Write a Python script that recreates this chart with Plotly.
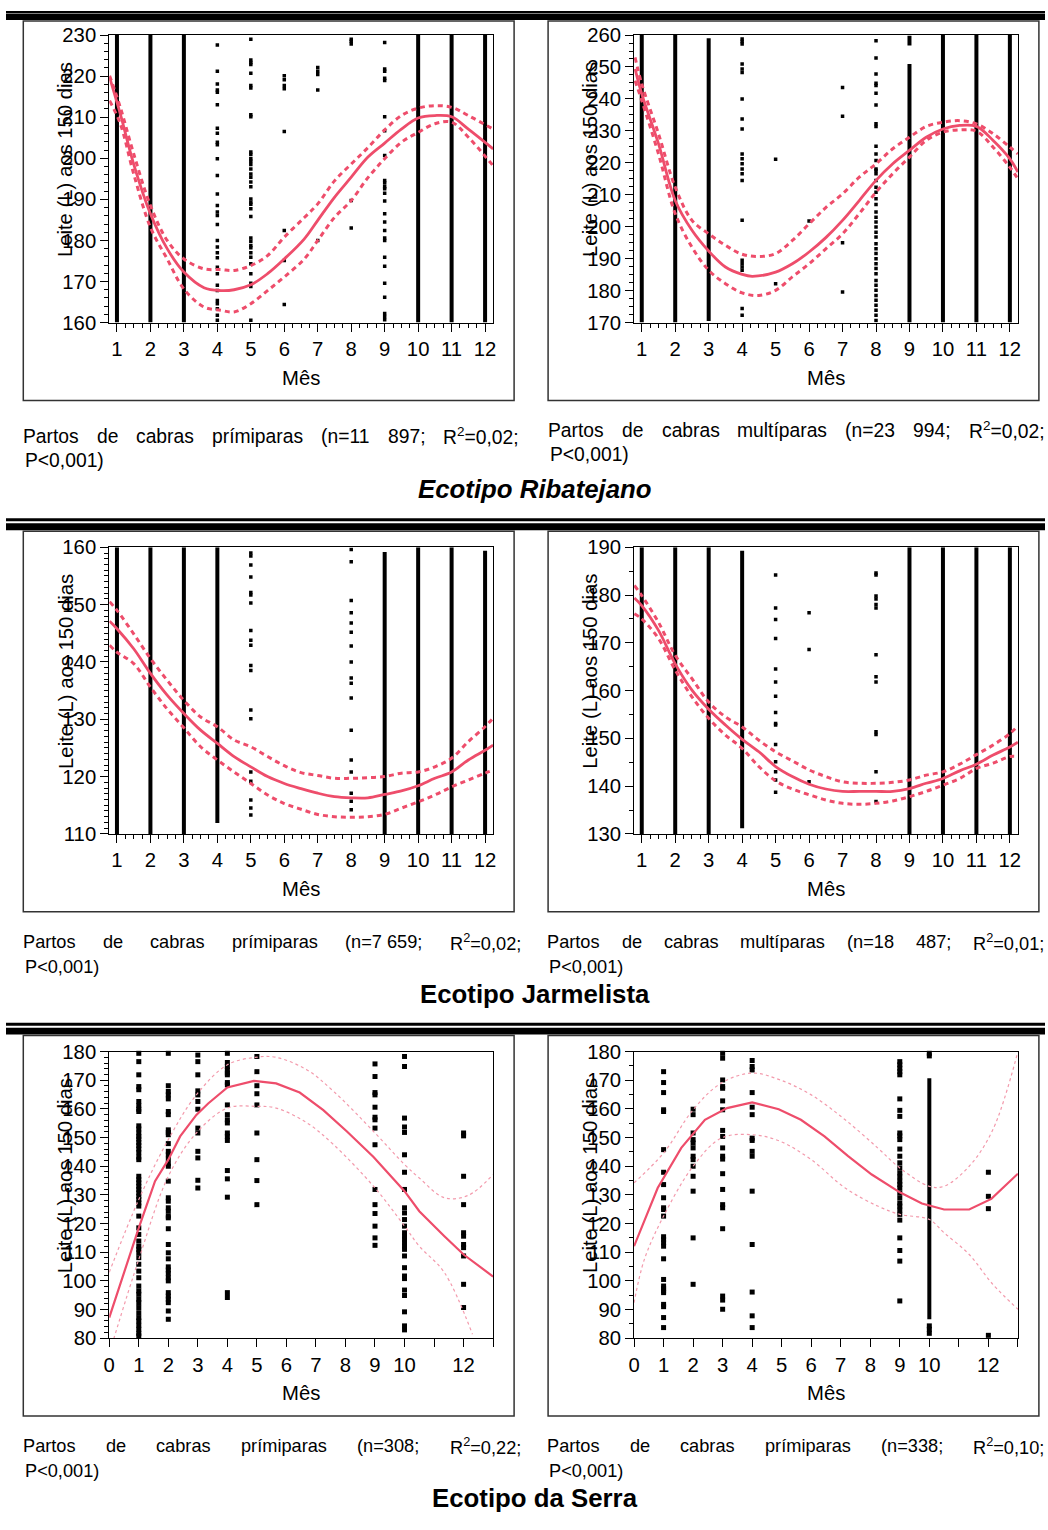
import plotly.graph_objects as go

W_PX, H_PX = 1048, 1530
# The photographed page comes out slightly shrunk; positions taken from the reference are
# pre-compensated (measured offset/scale per direction) so marks land where the reference has them.
SHOT_SCALE_Y = 0.987
SHOT_X_OFFSET, SHOT_SCALE_X = 5.7, 0.9918
FONT = "Liberation Sans, Arial, sans-serif"
RED = "#EE4D6B"
PINK = "#F39AAC"

# ---------------- data ----------------
# Panel 1: Ribatejano, primíparas
P1_SOLID = [(1, 160, 230), (2, 160, 230), (3, 160, 230), (10, 160, 230), (11, 160, 230), (12, 160, 230)]
P1_DOTS = {
    4: [227.6, 221.2, 218.1, 216.6, 216.1, 213.0, 207.3, 206.1, 203.9, 203.3, 199.9, 195.8, 191.3, 188.5, 186.9,
        186.1, 183.9, 180.0, 178.4, 177.0, 175.8, 173.5, 171.9, 169.1, 167.8, 165.4, 164.6, 163.4, 161.8, 160.6],
    5: [229.0, 223.9, 223.3, 222.8, 220.7, 217.7, 217.1, 210.6, 210.1, 201.5, 200.9, 199.9, 199.3, 198.5, 197.4,
        196.2, 195.4, 194.2, 193.1, 190.1, 189.3, 188.8, 187.7, 185.8, 180.6, 179.8, 178.8, 178.2, 177.0, 175.9,
        174.3, 171.9, 169.6, 168.8, 160.6],
    6: [220.1, 219.1, 217.7, 216.9, 206.5, 182.4, 175.1, 164.4],
    7: [222.1, 221.2, 220.4, 216.6, 180.0],
    8: [229.0, 228.5, 227.8, 189.7, 183.0],
    9: [228.2, 221.7, 221.2, 219.5, 218.9, 210.1, 206.7, 200.7, 194.6, 194.0, 193.1, 192.6, 191.5, 189.6, 186.5,
        184.5, 182.4, 180.6, 180.0, 175.9, 173.7, 169.6, 166.2, 162.2, 161.5, 160.7],
}
P1_X = [0.78, 1.1, 1.5, 2.0, 2.5, 3.0, 3.6, 4.1, 4.5, 5.0, 5.5, 6.0, 6.6, 7.0, 7.5, 8.0, 8.5, 9.0, 9.5, 10.0,
        10.5, 11.0, 11.5, 12.24]
P1_FIT = [219.7, 210.8, 198.6, 186.5, 178.0, 172.3, 168.5, 167.8, 168.0, 169.2, 171.9, 175.5, 180.4, 184.9,
          190.5, 195.4, 200.3, 203.7, 207.1, 209.8, 210.4, 210.1, 207.1, 202.3]
P1_UP = [220.1, 212.4, 201.1, 188.5, 180.0, 175.5, 173.1, 172.9, 172.7, 173.9, 176.3, 180.8, 185.6, 188.9,
         194.5, 198.6, 202.6, 206.9, 210.4, 212.2, 212.8, 212.4, 210.4, 207.1]
P1_LO = [214.0, 208.4, 196.2, 183.2, 175.5, 168.2, 163.8, 163.0, 162.6, 164.6, 167.8, 171.1, 175.5, 180.0,
         185.6, 189.7, 195.3, 199.9, 203.9, 206.3, 208.4, 208.8, 205.1, 198.2]

# Panel 2: Ribatejano, multíparas
P2_SOLID = [(1, 170, 260), (2, 170, 260), (3, 170.5, 259.0), (9, 256.7, 259.8), (9, 170, 250.9),
            (10, 170, 260), (11, 170, 260), (12, 170, 260)]
P2_DOTS = {
    4: [258.75, 258.0, 257.2, 250.9, 249.4, 248.3, 240.0, 233.75, 230.6, 222.8, 221.25, 219.7, 218.1, 216.6,
        214.5, 202.0, 189.5, 188.4, 187.4, 186.4, 174.4, 172.3],
    5: [221.1, 182.2],
    6: [201.8],
    7: [243.6, 234.6, 195.0, 179.6],
    8: [258.2, 252.8, 247.8, 244.9, 244.2, 241.8, 238.1, 232.2, 231.4, 225.2, 222.8, 220.7, 218.1, 217.6, 216.6,
        214.5, 212.4, 210.8, 208.75, 207.0, 204.6, 203.0, 201.5, 199.9, 198.3, 196.8, 194.7, 193.1, 191.6, 190.0,
        188.4, 186.9, 185.3, 183.2, 181.7, 180.1, 178.5, 177.0, 175.4, 173.9, 172.3, 170.7],
}
P2_FIT_X = [0.8, 1.0, 1.5, 2.0, 2.5, 3.0, 3.5, 4.0, 4.3, 5.0, 5.5, 6.0, 6.5, 7.0, 7.5, 8.0, 8.5, 9.0, 9.5, 10.0,
            10.5, 11.0, 11.5, 12.0, 12.24]
P2_FIT = [249.4, 241.6, 226.0, 208.2, 198.9, 192.4, 187.4, 185.1, 184.5, 185.8, 188.4, 192.1, 196.6, 202.0,
          208.2, 214.5, 219.7, 223.9, 228.0, 230.6, 231.7, 231.4, 227.0, 221.25, 217.1]
P2_CI_X = [0.8, 1.0, 1.5, 2.0, 2.5, 3.0, 3.5, 4.0, 4.5, 5.0, 5.5, 6.0, 6.5, 7.0, 7.5, 8.0, 8.5, 9.0, 9.5, 10.0,
           10.5, 11.0, 11.5, 12.0, 12.24]
P2_UP = [253.0, 244.7, 229.1, 212.4, 202.0, 197.8, 194.2, 191.4, 190.7, 191.6, 195.7, 200.9, 206.0, 210.3,
         215.5, 219.7, 224.4, 228.0, 231.4, 232.7, 233.2, 232.2, 229.1, 224.9, 222.8]
P2_LO = [245.7, 239.5, 222.8, 204.1, 193.6, 186.4, 182.2, 179.3, 178.5, 180.1, 184.3, 188.4, 193.1, 197.8,
         204.1, 210.8, 216.6, 221.8, 227.0, 229.6, 230.3, 229.9, 224.9, 218.6, 215.0]

# Panel 3: Jarmelista, primíparas
P3_SOLID = [(1, 110, 160), (2, 110, 160), (3, 110, 160), (4, 111.9, 160), (9, 110, 159.2),
            (10, 110, 160), (11, 110, 160), (12, 110, 159.4)]
P3_DOTS = {
    5: [159.0, 158.5, 156.9, 154.8, 152.1, 151.7, 150.3, 145.5, 143.8, 142.9, 139.4, 138.5, 131.6, 130.1, 120.8,
        119.2, 115.9, 114.5, 113.3],
    8: [159.6, 157.5, 150.7, 148.6, 146.8, 145.2, 142.8, 140.0, 137.2, 136.3, 133.7, 128.1, 122.9, 120.8, 117.1,
        115.7, 114.2],
}
P3_X = [0.78, 1.0, 1.5, 2.0, 2.5, 3.0, 3.5, 4.0, 4.5, 5.0, 5.5, 6.0, 6.5, 7.0, 7.5, 8.0, 8.5, 9.0, 9.5, 10.0,
        10.5, 11.0, 11.5, 12.0, 12.24]
P3_FIT = [147.1, 145.8, 142.3, 138.0, 134.2, 131.0, 128.1, 125.8, 123.5, 121.7, 120.0, 118.8, 117.9, 117.1,
          116.5, 116.3, 116.3, 116.9, 117.5, 118.4, 119.7, 120.8, 122.9, 124.6, 125.5]
P3_UP = [150.5, 149.0, 144.9, 140.6, 136.8, 133.3, 130.4, 128.7, 126.4, 125.2, 123.5, 121.9, 120.7, 120.2,
         119.7, 119.7, 119.8, 120.0, 120.6, 120.8, 121.7, 123.2, 126.1, 128.7, 130.2]
P3_LO = [142.9, 141.7, 139.7, 135.6, 131.8, 128.5, 125.2, 122.9, 120.8, 118.8, 116.8, 115.3, 114.3, 113.4,
         113.0, 112.9, 113.0, 113.4, 114.5, 115.6, 116.8, 118.2, 119.4, 120.6, 121.1]

# Panel 4: Jarmelista, multíparas
P4_SOLID = [(1, 130, 190), (2, 130, 190), (3, 130, 190), (4, 131.2, 189.3), (9, 130, 190),
            (10, 130, 190), (11, 130, 190), (12, 130, 190)]
P4_DOTS = {
    5: [184.2, 177.3, 174.9, 170.9, 164.5, 161.8, 158.8, 155.4, 153.1, 152.8, 148.7, 145.1, 143.0, 141.3, 138.7],
    6: [176.3, 168.6, 140.9],
    8: [184.6, 184.2, 179.8, 179.2, 178.0, 177.3, 167.5, 162.9, 161.8, 151.4, 150.8, 143.0, 136.8],
}
P4_X = P3_X
P4_FIT = [179.4, 177.8, 172.6, 165.6, 160.1, 156.1, 152.8, 149.8, 147.2, 144.1, 142.0, 140.4, 139.4, 138.9,
          138.9, 138.9, 138.9, 139.5, 140.6, 141.6, 143.2, 144.6, 146.5, 148.2, 149.2]
P4_UP = [182.0, 179.9, 174.3, 167.4, 162.5, 157.6, 154.5, 152.4, 149.6, 147.2, 145.3, 143.4, 142.0, 140.9,
         140.6, 140.6, 140.8, 141.3, 142.3, 143.0, 144.6, 146.6, 148.6, 151.0, 152.6]
P4_LO = [176.1, 175.0, 170.9, 164.3, 158.7, 154.2, 150.7, 147.9, 144.1, 141.1, 139.4, 138.2, 137.1, 136.4,
         136.2, 136.4, 136.9, 137.8, 138.9, 140.2, 141.6, 143.7, 144.8, 146.2, 146.2]

# Panel 5: Serra (n=308)
P5_SOLID = []
P5_DOTS = {
    1: [179.4, 176.5, 171.9, 167.8, 166.7, 162.6, 161.1, 159.9, 159.1, 154.1, 153.0, 151.6, 150.4, 149.5, 148.3,
        147.2, 146.0, 144.8, 143.2, 142.3, 136.5, 135.3, 134.2, 133.0, 131.9, 130.7, 129.5, 128.4, 127.2, 126.1,
        122.6, 118.5, 116.2, 113.9, 112.1, 111.0, 109.8, 108.1, 105.8, 103.4, 101.1, 98.2, 96.5, 95.3, 93.6,
        92.4, 90.7, 88.9, 87.2, 86.0, 84.5, 83.1, 81.7, 80.8],
    2: [179.4, 168.1, 166.1, 164.9, 163.5, 159.1, 158.0, 152.7, 151.8, 151.0, 147.9, 145.2, 144.0, 142.5, 140.9,
        140.0, 134.8, 129.0, 127.8, 125.5, 124.3, 122.6, 122.0, 118.2, 112.7, 109.8, 107.7, 104.9, 103.8, 102.6,
        101.1, 100.0, 95.9, 94.7, 93.6, 92.4, 89.5, 86.6],
    3: [178.8, 176.5, 171.9, 166.3, 164.9, 162.6, 159.9, 153.3, 151.6, 145.2, 142.9, 135.1, 132.4],
    4: [179.4, 176.2, 174.8, 173.6, 172.5, 171.9, 169.2, 168.4, 161.4, 158.0, 156.2, 155.1, 151.6, 150.4, 149.0,
        138.5, 135.6, 129.2, 95.9, 94.2],
    5: [178.3, 173.0, 168.1, 165.3, 161.4, 151.6, 142.3, 135.0, 126.6],
    9: [175.7, 171.3, 165.7, 164.9, 160.6, 157.1, 156.2, 153.3, 147.5, 131.9, 126.6, 123.5, 119.1, 115.0, 112.4],
    10: [181.0, 180.1, 178.3, 174.8, 156.8, 153.7, 151.8, 144.0, 137.9, 131.9, 125.5, 123.7, 121.4, 119.1, 116.8,
         115.6, 114.5, 113.3, 112.1, 111.0, 108.7, 104.6, 101.7, 100.8, 96.8, 94.9, 89.2, 84.3, 82.9],
    12: [151.6, 150.6, 136.5, 126.6, 116.8, 115.6, 112.7, 111.6, 108.7, 98.8, 90.7],
}
P5_FIT_X = [0, 1, 1.55, 2, 2.4, 2.95, 3.35, 4, 4.9, 5.65, 6.45, 7.25, 8.05, 8.95, 10, 10.5, 11.35, 12, 13]
P5_FIT = [87.2, 118.5, 134.8, 142.3, 150.4, 157.9, 161.9, 167.5, 169.8, 168.9, 165.7, 159.6, 152.1, 143.2,
          131.3, 124.3, 115.6, 109.2, 101.5]
P5_UP_X = [0, 1, 2, 2.95, 4, 4.95, 5.65, 6.7, 7.6, 9, 10, 10.5, 11.35, 12.15, 13]
P5_UP = [103.0, 128.4, 149.3, 164.9, 175.4, 178.0, 178.0, 173.6, 166.1, 151.6, 140.6, 135.9, 129.0, 129.8, 137.1]
P5_LO_X = [0.15, 1, 2, 2.95, 4, 4.95, 5.65, 6.7, 7.6, 9, 10, 10.5, 11.35, 12.3]
P5_LO = [79.7, 107.5, 136.5, 151.6, 160.3, 160.9, 160.3, 155.1, 147.5, 132.4, 119.1, 112.1, 102.9, 81.4]

# Panel 6: Serra (n=338)
P6_SOLID = [(10, 86.6, 170.7)]
P6_DOTS = {
    1: [173.0, 169.2, 165.7, 159.7, 159.1, 145.8, 137.9, 133.6, 129.0, 125.5, 124.9, 122.6, 115.4, 114.5, 113.3,
        112.1, 107.7, 100.5, 98.2, 97.3, 96.5, 95.9, 91.8, 91.0, 87.2, 83.7],
    2: [159.9, 158.0, 151.6, 149.3, 148.1, 146.4, 143.5, 142.3, 140.0, 136.5, 131.3, 115.0, 98.8],
    3: [179.4, 177.7, 170.1, 167.8, 167.2, 162.8, 159.7, 152.5, 150.4, 146.4, 143.5, 142.5, 137.4, 131.9, 126.6,
        125.5, 118.2, 94.7, 93.3, 90.1],
    4: [176.9, 174.8, 173.6, 165.7, 160.6, 158.0, 149.8, 149.0, 145.2, 143.5, 131.3, 112.7, 96.1, 87.8, 83.7],
    9: [176.5, 175.4, 174.2, 173.0, 171.9, 163.5, 159.5, 157.4, 151.6, 150.6, 149.3, 146.0, 143.5, 141.2, 139.4,
        137.7, 136.3, 134.8, 133.6, 132.4, 130.7, 129.0, 127.2, 126.1, 124.7, 123.2, 121.2, 115.0, 110.6, 106.9,
        93.0],
    10: [179.4, 178.5, 84.3, 83.1, 81.7],
    12: [137.9, 129.5, 125.2, 81.0],
}
P6_FIT_X = [0, 0.8, 1.6, 2.4, 3.15, 4, 4.9, 5.65, 6.45, 7.25, 8.05, 9, 9.75, 10.5, 11.35, 12.1, 13]
P6_FIT = [112.1, 132.4, 146.4, 156.2, 160.3, 162.3, 159.9, 156.2, 150.4, 143.5, 137.1, 130.9, 127.0, 124.9,
          124.9, 128.6, 137.4]
P6_UP_X = [0, 1, 2, 2.95, 4, 4.95, 6, 7.15, 8.25, 9, 10, 10.5, 11.35, 12.15, 13]
P6_UP = [134.2, 144.6, 159.7, 169.0, 172.5, 170.1, 164.9, 156.2, 146.4, 139.4, 133.0, 133.0, 140.0, 152.7, 180.0]
P6_LO_X = [0, 0.35, 1, 2, 2.95, 4, 4.95, 6, 7.15, 8.25, 9, 10, 10.5, 11.35, 12.15, 13]
P6_LO = [92.4, 107.5, 122.6, 140.0, 149.8, 151.0, 148.7, 142.3, 132.4, 126.1, 123.2, 121.4, 116.8, 109.2, 98.8,
         90.1]

Y_RANGES = [(160, 230), (170, 260), (110, 160), (130, 190), (80, 180), (80, 180)]
Y_MINOR = [2, 2.5, 1, 5, 2, 5]
X_TICKS_SERRA = [0, 1, 2, 3, 4, 5, 6, 7, 8, 9, 10, 12]
X_TICKTEXT_SERRA = ["0", "1", "2", "3", "4", "5", "6", "7", "8", "9", "10", "12"]
X_UNLABELLED_SERRA = [11, 13]

CAPTIONS = [
    ["Partos", "de", "cabras", "prímiparas", "(n=11", "897;", "R²=0,02;"],
    ["Partos", "de", "cabras", "multíparas", "(n=23", "994;", "R²=0,02;"],
    ["Partos", "de", "cabras", "prímiparas", "(n=7\u00a0659;", "R²=0,02;"],
    ["Partos", "de", "cabras", "multíparas", "(n=18", "487;", "R²=0,01;"],
    ["Partos", "de", "cabras", "prímiparas", "(n=308;", "R²=0,22;"],
    ["Partos", "de", "cabras", "prímiparas", "(n=338;", "R²=0,10;"],
]
TITLES = ["<b><i>Ecotipo Ribatejano</i></b>", "<b>Ecotipo Jarmelista</b>", "<b>Ecotipo da Serra</b>"]

# ---------------- layout geometry (reference pixels) ----------------
COL_X = [(109, 493), (634, 1018)]
ROW_Y = [(34, 322), (547, 834), (1052, 1339)]
BOX_X = [(23, 514), (548, 1039)]
BOX_Y = [(20, 400), (531, 912), (1036, 1417)]
RULES = [((8, 11), (13, 19)), ((518, 521), (523, 530)), ((1023, 1026), (1028, 1035))]


def page_x(x):
    return (x - SHOT_X_OFFSET) / SHOT_SCALE_X


def page_y(y):
    return H_PX / 2 + (y - H_PX / 2) / SHOT_SCALE_Y


def px(x):
    return page_x(x) / W_PX


def py(y):
    return 1 - page_y(y) / H_PX


def fs(size):
    return round(size / SHOT_SCALE_Y, 1)


fig = go.Figure()

panels = [
    (P1_SOLID, P1_DOTS, (P1_X, P1_FIT), (P1_X, P1_UP), (P1_X, P1_LO)),
    (P2_SOLID, P2_DOTS, (P2_FIT_X, P2_FIT), (P2_CI_X, P2_UP), (P2_CI_X, P2_LO)),
    (P3_SOLID, P3_DOTS, (P3_X, P3_FIT), (P3_X, P3_UP), (P3_X, P3_LO)),
    (P4_SOLID, P4_DOTS, (P4_X, P4_FIT), (P4_X, P4_UP), (P4_X, P4_LO)),
    (P5_SOLID, P5_DOTS, (P5_FIT_X, P5_FIT), (P5_UP_X, P5_UP), (P5_LO_X, P5_LO)),
    (P6_SOLID, P6_DOTS, (P6_FIT_X, P6_FIT), (P6_UP_X, P6_UP), (P6_LO_X, P6_LO)),
]

annotations = []
shapes = []

for i, (solid, dots, fit, up, lo) in enumerate(panels):
    n = i + 1
    row, col = i // 2, i % 2
    xa = "x" if n == 1 else f"x{n}"
    ya = "y" if n == 1 else f"y{n}"
    serra = row == 2

    # dense columns drawn as vertical segments
    if solid:
        sx, sy = [], []
        for m, a, b in solid:
            sx += [m, m, None]
            sy += [a, b, None]
        fig.add_trace(go.Scatter(x=sx, y=sy, mode="lines", xaxis=xa, yaxis=ya,
                                 line=dict(color="black", width=4), hoverinfo="skip", showlegend=False))
    dx, dy = [], []
    for m, vals in dots.items():
        dx += [m] * len(vals)
        dy += vals
    fig.add_trace(go.Scatter(x=dx, y=dy, mode="markers", xaxis=xa, yaxis=ya, cliponaxis=not serra,
                             marker=dict(symbol="square", size=5 if serra else 3.5, color="black",
                                         line=dict(width=0)),
                             hoverinfo="skip", showlegend=False))
    if serra:
        for cx, cy in (up, lo):
            fig.add_trace(go.Scatter(x=cx, y=cy, mode="lines", xaxis=xa, yaxis=ya,
                                     line=dict(color=PINK, width=1.2, dash="dot", shape="spline"),
                                     hoverinfo="skip", showlegend=False))
        fig.add_trace(go.Scatter(x=fit[0], y=fit[1], mode="lines", xaxis=xa, yaxis=ya,
                                 line=dict(color=RED, width=2.2), hoverinfo="skip", showlegend=False))
    else:
        for cx, cy in (up, lo):
            fig.add_trace(go.Scatter(x=cx, y=cy, mode="lines", xaxis=xa, yaxis=ya,
                                     line=dict(color=RED, width=3, dash="5px,4px", shape="spline"),
                                     hoverinfo="skip", showlegend=False))
        fig.add_trace(go.Scatter(x=fit[0], y=fit[1], mode="lines", xaxis=xa, yaxis=ya,
                                 line=dict(color=RED, width=2.8, shape="spline"),
                                 hoverinfo="skip", showlegend=False))

    x0, x1 = COL_X[col]
    y0, y1 = ROW_Y[row]
    common = dict(showline=True, mirror=True, linecolor="black", linewidth=1, ticks="outside",
                  ticklen=8, tickwidth=1, tickcolor="black", showgrid=False, zeroline=False,
                  tickfont=dict(family=FONT, size=fs(20), color="black"))
    if serra:
        xcfg = dict(domain=[px(x0), px(x1)], range=[0, 13], tickmode="array",
                    tickvals=X_TICKS_SERRA, ticktext=X_TICKTEXT_SERRA,
                    minor=dict(tickmode="array", tickvals=X_UNLABELLED_SERRA, ticklen=8, ticks="outside",
                               tickcolor="black", showgrid=False),
                    anchor=ya, **common)
    else:
        xcfg = dict(domain=[px(x0), px(x1)], range=[0.77, 12.24], tickmode="linear", tick0=1, dtick=1,
                    minor=dict(dtick=0.25, tick0=1, ticklen=4, ticks="outside", tickcolor="black",
                               showgrid=False), anchor=ya, **common)
    ylo, yhi = Y_RANGES[i]
    ycfg = dict(domain=[py(y1), py(y0)], range=[ylo, yhi], tickmode="linear", tick0=ylo, dtick=10,
                minor=dict(dtick=Y_MINOR[i], tick0=ylo, ticklen=4, ticks="outside", tickcolor="black",
                           showgrid=False), anchor=xa, **common)
    fig.layout[("xaxis" if n == 1 else f"xaxis{n}")] = xcfg
    fig.layout[("yaxis" if n == 1 else f"yaxis{n}")] = ycfg

    # axis titles (as in the original, the y title overlaps the tick labels)
    ytx = 65 if col == 0 else 590
    annotations.append(dict(xref="paper", yref="paper", x=px(ytx), y=py((y0 + y1) / 2 - 19),
                            text="Leite (L) aos 150 dias", textangle=-90, showarrow=False,
                            font=dict(family=FONT, size=fs(20), color="black"),
                            xanchor="center", yanchor="middle"))
    annotations.append(dict(xref="paper", yref="paper", x=px((x0 + x1) / 2), y=py(y1 + 55),
                            text="Mês", showarrow=False, font=dict(family=FONT, size=fs(20), color="black"),
                            xanchor="center", yanchor="middle"))

    # panel frame
    bx0, bx1 = BOX_X[col]
    by0, by1 = BOX_Y[row]
    shapes.append(dict(type="rect", xref="paper", yref="paper", x0=px(bx0), x1=px(bx1), y0=py(by1),
                       y1=py(by0), line=dict(color="#333333", width=1.5), layer="below"))

# horizontal rules
for (t0, t1), (k0, k1) in RULES:
    for a, b in ((t0, t1), (k0, k1)):
        top = max(page_y(a), 0.0)
        bot = max(page_y(b), top + 2.5)
        shapes.append(dict(type="rect", xref="paper", yref="paper", x0=0, x1=1, y0=1 - bot / H_PX,
                           y1=1 - top / H_PX, fillcolor="black", line=dict(width=0)))

# captions (justified like the original page)
CW = {' ': 278, '(': 333, ')': 333, ';': 278, ',': 278, '=': 584, '<': 584, 'P': 667, 'R': 722, 'a': 556,
      'b': 556, 'c': 500, 'd': 556, 'e': 556, 'i': 222, 'í': 278, 'l': 222, 'm': 833, 'n': 556, 'o': 556,
      'p': 556, 'r': 333, 's': 500, 't': 278, 'u': 556, 'f': 278, '²': 370, '\u00a0': 278}


def tw(s, size):
    return sum(CW.get(c, 556) for c in s) / 1000 * size


CAP_BOUNDS = [(23, 518), (548, 1044), (23, 520), (547, 1044), (23, 520), (547, 1044)]
CAP_Y = [(436, 460), (430, 454), (942, 967), (942, 967), (1447, 1472), (1447, 1472)]
for j, words in enumerate(CAPTIONS):
    size = 19 if j < 2 else 18
    L, R = CAP_BOUNDS[j]
    widths = [tw(w, size) for w in words]
    gap = (R - L - sum(widths)) / (len(words) - 1)
    xx = L
    l1, l2 = CAP_Y[j]
    for w, wd in zip(words, widths):
        annotations.append(dict(xref="paper", yref="paper", x=px(xx + wd / 2), y=py(l1),
                                text=w.replace("²", "<sup>2</sup>"), showarrow=False,
                                font=dict(family=FONT, size=fs(size), color="black"),
                                xanchor="center", yanchor="middle"))
        xx += wd + gap
    annotations.append(dict(xref="paper", yref="paper", x=px(L), y=py(l2), text="P&lt;0,001)",
                            showarrow=False, font=dict(family=FONT, size=fs(size), color="black"),
                            xanchor="left", yanchor="middle"))

TITLE_Y = [489, 994, 1499]
for t, ty in zip(TITLES, TITLE_Y):
    annotations.append(dict(xref="paper", yref="paper", x=px(535), y=py(ty), text=t, showarrow=False,
                            font=dict(family=FONT, size=fs(25.5), color="black"), xanchor="center",
                            yanchor="middle"))

fig.update_layout(width=W_PX, height=H_PX, autosize=False, margin=dict(l=0, r=0, t=0, b=0),
                  paper_bgcolor="white", plot_bgcolor="white", showlegend=False,
                  annotations=annotations, shapes=shapes)

fig.write_html("out.html", config={"displayModeBar": False},
               post_script="document.body.style.margin='0';document.body.style.overflow='hidden';")
